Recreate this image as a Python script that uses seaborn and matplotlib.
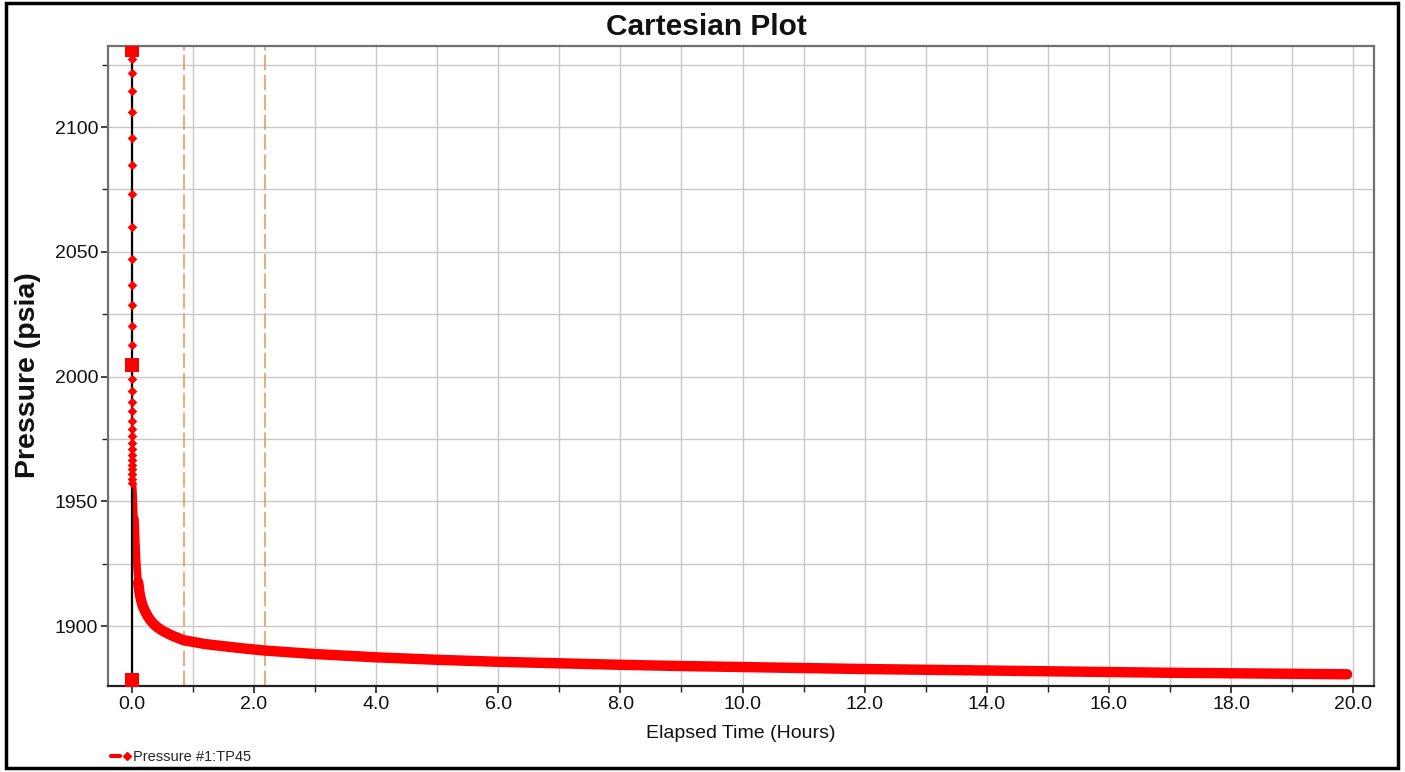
import matplotlib
matplotlib.use("Agg")
import matplotlib.pyplot as plt
from matplotlib.lines import Line2D
from matplotlib.legend_handler import HandlerTuple
from matplotlib.patches import Rectangle
from matplotlib.ticker import MultipleLocator, FormatStrFormatter
import pandas as pd
import seaborn as sns

# Early gauge readings (sparse samples right after the pressure drop starts)
early_time_hr = [0.0003, 0.0006, 0.0009, 0.0012, 0.0015, 0.0018, 0.0021, 0.0024,
                 0.0027, 0.0030, 0.0033, 0.0036, 0.0039, 0.0045, 0.0048, 0.0051,
                 0.0054, 0.0057, 0.0060, 0.0063, 0.0066, 0.0069, 0.0072, 0.0075,
                 0.0078, 0.0081, 0.0084, 0.0087, 0.0090]
early_pressure = [2127.4, 2121.8, 2114.4, 2106.0, 2095.7, 2084.7, 2073.1, 2060.0,
                  2047.3, 2036.9, 2028.5, 2020.4, 2012.7, 1998.9, 1994.2, 1989.8,
                  1986.2, 1982.2, 1979.1, 1976.2, 1973.2, 1970.8, 1968.5, 1966.5,
                  1964.4, 1962.8, 1960.8, 1959.0, 1957.3]

# Falloff readings over the rest of the test
time_hr = [0.030, 0.038, 0.044, 0.052, 0.062, 0.075, 0.087, 0.105, 0.125, 0.15,
           0.18, 0.22, 0.26, 0.30, 0.36, 0.43, 0.52, 0.65, 0.84, 1.2, 1.77, 2.18,
           3.0, 4.0, 5.0, 6.0, 7.0, 8.0, 9.0, 10.0, 11.0, 12.0, 13.0, 14.0, 15.0,
           16.0, 17.0, 18.0, 19.0, 19.9]
pressure = [1957.0, 1953.0, 1949.0, 1943.0, 1936.0, 1929.0, 1923.0, 1917.5,
            1913.5, 1910.5, 1908.0, 1905.8, 1904.0, 1902.5, 1900.8, 1899.3,
            1897.9, 1896.3, 1894.4, 1892.8, 1891.2, 1890.2, 1888.8, 1887.5,
            1886.5, 1885.7, 1885.1, 1884.5, 1884.0, 1883.6, 1883.2, 1882.8,
            1882.5, 1882.2, 1881.9, 1881.6, 1881.3, 1881.1, 1880.9, 1880.7]

# Flagged points at time zero
flag_time_hr = [0.0, 0.0, 0.0]
flag_pressure = [2130.9, 2004.6, 1878.4]

# Analysis period markers
marker_times_hr = [0.85, 2.18]

series_label = "Pressure #1:TP45"

sns.set_theme(style="white")
plt.rcParams["font.family"] = ["Liberation Sans", "DejaVu Sans"]

fig = plt.figure(figsize=(14.05, 7.72), dpi=100)
ax = fig.add_axes([108 / 1405, 86 / 772, (1374 - 108) / 1405, (686 - 46) / 772])

dense = pd.DataFrame({"t": time_hr, "p": pressure})
sparse = pd.DataFrame({"t": early_time_hr, "p": early_pressure})
flags = pd.DataFrame({"t": flag_time_hr, "p": flag_pressure})

# the steep early stretch is sampled less densely, so the band reads thinner there
bands = [(1957.0, 1936.0, 4.0), (1943.0, 1913.5, 5.5), (1917.5, 1800.0, 7.5)]
for p_hi, p_lo, width in bands:
    part = dense[(dense["p"] <= p_hi) & (dense["p"] >= p_lo)]
    sns.lineplot(data=part, x="t", y="p", ax=ax, color="#ff0000", lw=width,
                 solid_capstyle="round", solid_joinstyle="round", sort=False,
                 estimator=None, zorder=2)
sns.scatterplot(data=sparse, x="t", y="p", ax=ax, color="#ff0000", marker="D",
                s=24, linewidth=0, zorder=4)
sns.scatterplot(data=flags, x="t", y="p", ax=ax, color="#ff0000", marker="s",
                s=90, linewidth=0, zorder=5)

ax.axvline(0.0, color="black", lw=1.6, zorder=3)
for mt in marker_times_hr:
    ax.axvline(mt, color="#e69650", lw=1.1, dashes=(10, 3), zorder=1.5)

ax.set_xlim(-0.39, 20.34)
ax.set_ylim(1876.0, 2132.5)

ax.xaxis.set_major_locator(MultipleLocator(2.0))
ax.xaxis.set_minor_locator(MultipleLocator(1.0))
ax.xaxis.set_major_formatter(FormatStrFormatter("%.1f"))
ax.yaxis.set_major_locator(MultipleLocator(50))
ax.yaxis.set_minor_locator(MultipleLocator(25))

ax.grid(True, which="both", color="#c8c8c8", lw=1.0, zorder=0)
ax.set_axisbelow(True)

ax.tick_params(axis="both", which="major", direction="out", length=5, width=1.2,
               color="#222222", labelsize=14, labelcolor="#111111",
               bottom=True, left=True, pad=2)
ax.tick_params(axis="both", which="minor", direction="out", length=4, width=1.0,
               color="#222222", bottom=True, left=True)

for side in ["top", "right", "left"]:
    ax.spines[side].set_color("#707070")
    ax.spines[side].set_linewidth(1.6)
ax.spines["bottom"].set_color("#222222")
ax.spines["bottom"].set_linewidth(1.6)

ax.set_xlabel("Elapsed Time (Hours)", fontsize=14, color="#111111", labelpad=9)
ax.set_ylabel("")
fig.text(28 / 1405, 1 - 375 / 772, "Pressure (psia)", rotation=90, fontsize=20.5,
         fontweight="bold", ha="center", va="center", color="#111111")

fig.text(706 / 1405, 1 - 27 / 772, "Cartesian Plot", fontsize=21.5,
         fontweight="bold", ha="center", va="center", color="#111111")

# legend key: a short dash followed by a diamond
dash_key = Line2D([], [], color="#ff0000", lw=3)
diamond_key = Line2D([], [], color="#ff0000", lw=0, marker="D", markersize=4)
fig.legend(handles=[(dash_key, diamond_key)], labels=[series_label],
           handler_map={tuple: HandlerTuple(ndivide=None, pad=0.2)},
           loc="center left", bbox_to_anchor=(98 / 1405, 1 - 757 / 772),
           frameon=False, fontsize=10.5, handlelength=1.4, handletextpad=0.1)

fig.patches.append(Rectangle((6 / 1405, 4 / 772), 1392 / 1405, 765 / 772,
                             transform=fig.transFigure, fill=False,
                             edgecolor="black", lw=2.5))

fig.savefig("out.png", dpi=100, facecolor="white")
